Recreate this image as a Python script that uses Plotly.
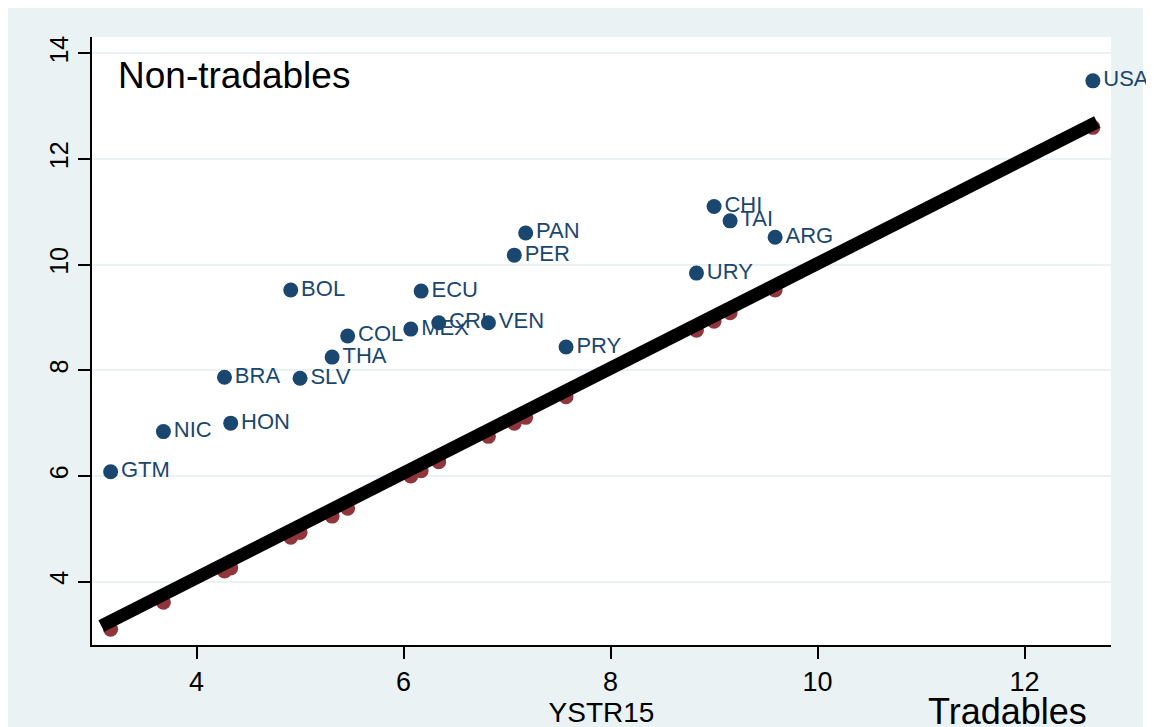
import plotly.graph_objects as go

countries = ["GTM", "NIC", "HON", "BRA", "SLV", "BOL", "THA", "COL", "MEX", "CRI",
             "ECU", "VEN", "PRY", "PER", "PAN", "URY", "CHI", "TAI", "ARG", "USA"]
tradables = [3.17, 3.68, 4.33, 4.27, 5.00, 4.91, 5.31, 5.46, 6.07, 6.34,
             6.17, 6.82, 7.57, 7.07, 7.18, 8.83, 9.00, 9.155, 9.59, 12.66]
non_tradables = [6.08, 6.84, 7.00, 7.87, 7.85, 9.52, 8.25, 8.65, 8.78, 8.90,
                 9.50, 8.90, 8.44, 10.18, 10.60, 9.84, 11.10, 10.83, 10.52, 13.48]
fitted = [3.10, 3.61, 4.26, 4.20, 4.93, 4.84, 5.24, 5.39, 6.00, 6.27,
          6.10, 6.75, 7.50, 7.00, 7.11, 8.76, 8.93, 9.09, 9.52, 12.60]
line_x = [3.08, 12.70]
line_y = [3.16, 12.70]

x_ticks = [4, 6, 8, 10, 12]
y_ticks = [4, 6, 8, 10, 12, 14]

NAVY = "#1A476F"
MAROON = "#90353B"
BG = "#EAF2F3"
FONT = "Liberation Sans, Arial, sans-serif"

fig = go.Figure()
fig.add_trace(go.Scatter(
    x=tradables, y=fitted, mode="markers",
    marker=dict(color=MAROON, size=15, line=dict(width=0)),
    cliponaxis=False, showlegend=False, hoverinfo="skip"))
fig.add_trace(go.Scatter(
    x=line_x, y=line_y, mode="lines",
    line=dict(color="black", width=13),
    cliponaxis=False, showlegend=False, hoverinfo="skip"))
fig.add_trace(go.Scatter(
    x=tradables, y=non_tradables, mode="markers+text",
    text=countries, textposition="middle right",
    textfont=dict(color=NAVY, size=22, family=FONT),
    marker=dict(color=NAVY, size=15, line=dict(width=0)),
    cliponaxis=False, showlegend=False))

fig.update_layout(
    width=1146, height=727,
    margin=dict(l=84, r=43, t=29, b=90, pad=0),
    paper_bgcolor=BG, plot_bgcolor="white",
    font=dict(family=FONT, color="black"),
    showlegend=False,
    xaxis=dict(
        range=[2.99, 12.835], tickvals=x_ticks, ticktext=[str(v) for v in x_ticks],
        showgrid=False, zeroline=False,
        showline=True, linecolor="black", linewidth=2,
        ticks="outside", ticklen=12, tickwidth=1.5, tickcolor="black",
        tickfont=dict(size=27, family=FONT, color="black"),
        title=dict(text="YSTR15", font=dict(size=28, family=FONT, color="black"), standoff=0),
    ),
    yaxis=dict(
        range=[2.80, 14.31], tickvals=y_ticks, ticktext=[str(v) for v in y_ticks],
        showgrid=True, gridcolor=BG, gridwidth=2, zeroline=False,
        showline=True, linecolor="black", linewidth=2,
        ticks="outside", ticklen=12, tickwidth=1.5, tickcolor="black",
        tickangle=-90,
        tickfont=dict(size=25, family=FONT, color="black"),
    ),
    shapes=[
        dict(type="rect", xref="paper", yref="paper", x0=1.0314, x1=1.3, y0=-0.3, y1=1.3,
             fillcolor="white", line=dict(width=0), layer="below"),
    ],
    annotations=[
        dict(text="Non-tradables", xref="paper", yref="paper", x=0.0235, y=0.9375,
             xanchor="left", yanchor="middle", showarrow=False,
             font=dict(size=37, family=FONT, color="black")),
        dict(text="Tradables", xref="paper", yref="paper", x=0.898, y=-0.110,
             xanchor="center", yanchor="middle", showarrow=False,
             font=dict(size=36, family=FONT, color="black")),
    ],
)

fig.write_html("out.html")
